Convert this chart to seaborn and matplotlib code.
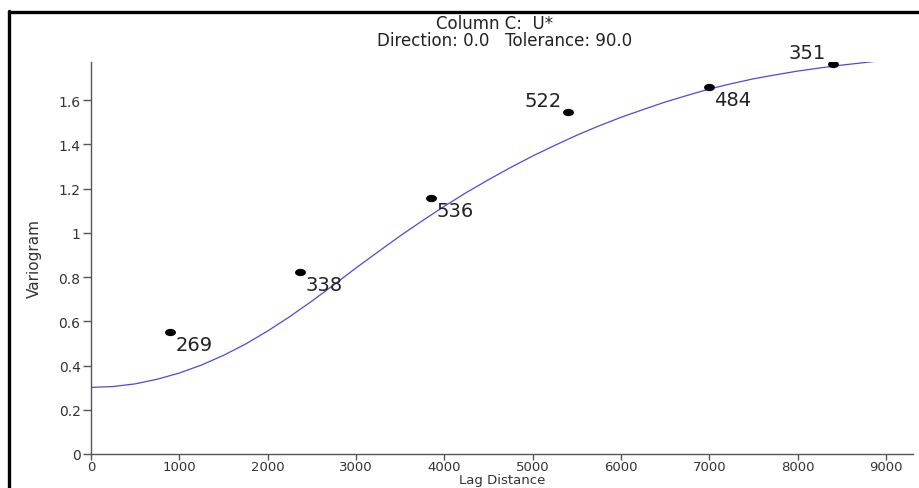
import matplotlib
matplotlib.use("Agg")
import matplotlib.pyplot as plt
import seaborn as sns
import pandas as pd
from matplotlib.lines import Line2D
from matplotlib.path import Path
from matplotlib.transforms import Affine2D

# Experimental variogram points (lag distance, variogram, pair count)
lag = [895, 2367, 3850, 5405, 6991, 8395]
gamma = [0.550, 0.821, 1.156, 1.544, 1.660, 1.761]
pairs = ["269", "338", "536", "522", "484", "351"]
label_side = ["br", "br", "br", "tl", "br", "tl"]

# Model curve values
curve_x = [0, 250, 500, 750, 1000, 1250, 1500, 1750, 2000, 2250, 2500, 2750,
           3000, 3250, 3500, 3750, 4000, 4250, 4500, 4750, 5000, 5250, 5500,
           5750, 6000, 6250, 6500, 6750, 7000, 7250, 7500, 7750, 8000, 8250,
           8500, 8750, 8900]
curve_y = [0.301, 0.305, 0.317, 0.338, 0.366, 0.402, 0.446, 0.497, 0.556, 0.621,
           0.691, 0.765, 0.841, 0.914, 0.986, 1.054, 1.120, 1.182, 1.240, 1.295,
           1.347, 1.395, 1.441, 1.483, 1.522, 1.557, 1.591, 1.621, 1.650, 1.674,
           1.696, 1.714, 1.731, 1.745, 1.758, 1.769, 1.776]

x_ticks = [0, 1000, 2000, 3000, 4000, 5000, 6000, 7000, 8000, 9000]
y_ticks = [0, 0.2, 0.4, 0.6, 0.8, 1.0, 1.2, 1.4, 1.6]
y_tick_labels = ["0", "0.2", "0.4", "0.6", "0.8", "1", "1.2", "1.4", "1.6"]

title1 = "Column C:  U*"
title2 = "Direction: 0.0   Tolerance: 90.0"

sns.set_style("white")
plt.rcParams["font.family"] = ["DejaVu Sans"]

W, H = 920, 489
fig = plt.figure(figsize=(W / 100, H / 100), dpi=100)
fig.patch.set_facecolor("white")

ax_left, ax_right = 91, 913
ax_bottom, ax_top = 455, 63
ax_h = ax_bottom - ax_top
ax = fig.add_axes([ax_left / W, 1 - ax_bottom / H,
                   (ax_right - ax_left) / W, ax_h / H])
ax.set_facecolor("white")

curve_df = pd.DataFrame({"x": curve_x, "y": curve_y})
pts_df = pd.DataFrame({"x": lag, "y": gamma, "n": pairs})

sns.lineplot(data=curve_df, x="x", y="y", ax=ax, color="#4a4ae0",
             linewidth=0.9, sort=True, estimator=None)

ellipse = Path.unit_circle().transformed(Affine2D().scale(1.5, 1.0))
sns.scatterplot(data=pts_df, x="x", y="y", ax=ax, color="black", s=62,
                marker=ellipse, edgecolor="black", linewidth=0, zorder=5)

for x, y, n, side in zip(lag, gamma, pairs, label_side):
    if side == "br":
        ax.annotate(n, (x, y), xytext=(4, -2), textcoords="offset points",
                    ha="left", va="top", fontsize=14, color="#222222")
    else:
        ax.annotate(n, (x, y), xytext=(-5, 2), textcoords="offset points",
                    ha="right", va="bottom", fontsize=14, color="#222222")

xmax = 9000 + (ax_right - 886) / (886 - 91) * 9000
ax.set_xlim(0, xmax)
ax.set_ylim(0, 1.772)
ax.set_xticks(x_ticks)
ax.set_xticklabels([str(v) for v in x_ticks], fontsize=9.5, color="#333333")
ax.set_yticks(y_ticks)
ax.set_yticklabels(y_tick_labels, fontsize=10, color="#333333")

for s in ["top", "right"]:
    ax.spines[s].set_visible(False)
for s in ["left", "bottom"]:
    ax.spines[s].set_color("#555555")
    ax.spines[s].set_linewidth(1.0)
ax.tick_params(axis="x", which="major", direction="out", length=4,
               width=1, color="#555555", bottom=True, pad=0.5)
ax.tick_params(axis="y", which="major", direction="out", length=6,
               width=1, color="#555555", left=True, pad=1.5)

ax.set_xlabel("Lag Distance", fontsize=9.5, color="#333333", va="center")
ax.xaxis.set_label_coords(0.5, -(481 - ax_bottom) / ax_h)
ax.set_ylabel("Variogram", fontsize=11, color="#333333", va="center",
              family=["Liberation Sans Narrow", "DejaVu Sans"])
ax.yaxis.set_label_coords(-(ax_left - 34) / (ax_right - ax_left), 0.5)

cx = (ax_left + ax_right) / 2 / W
fig.text(cx - 0.008, 1 - 24 / H, title1, ha="center", va="center",
         fontsize=12, color="#222222")
fig.text(cx + 0.003, 1 - 41.5 / H, title2, ha="center", va="center",
         fontsize=12, color="#222222")

# Frame lines (top and left) as in the reference screenshot
fig.add_artist(Line2D([8.5 / W, 1.0], [1 - 13 / H, 1 - 13 / H],
                      transform=fig.transFigure, color="black", linewidth=2.4))
fig.add_artist(Line2D([9 / W, 9 / W], [0, 1 - 12 / H],
                      transform=fig.transFigure, color="black", linewidth=2.4))

fig.savefig("out.png", dpi=100, facecolor="white")
